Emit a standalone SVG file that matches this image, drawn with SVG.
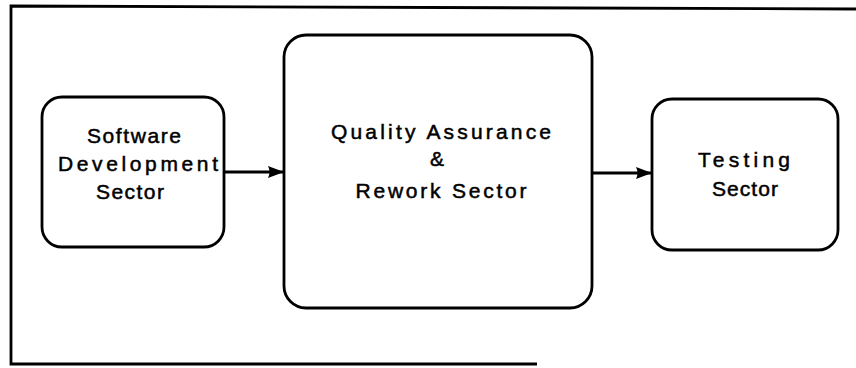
<svg xmlns="http://www.w3.org/2000/svg" width="856" height="368" viewBox="0 0 856 368">
<style>
.box{fill:#fff;stroke:#000;stroke-width:2.8}
.frame{fill:none;stroke:#000;stroke-width:2.8}
.lbl{font-family:"Liberation Sans",Arial,sans-serif;font-size:21px;fill:#000;stroke:#000;stroke-width:0.5;text-anchor:middle}
.conn{stroke:#000;stroke-width:2.8;fill:none}
</style>
<defs>
<marker id="ah" viewBox="0 0 16 12" refX="16" refY="6" markerWidth="16" markerHeight="12" markerUnits="userSpaceOnUse" orient="auto">
<path d="M0,0 L16,6 L0,12 Q3,6 0,0 z" fill="#000"/>
</marker>
</defs>
<g id="frame">
<path class="frame" d="M856,9 L11,6 L11,364 L537,364"/>
</g>
<g id="software">
<rect class="box" x="42" y="97" width="182" height="150" rx="20"/>
<text class="lbl" x="134" y="143" textLength="94" lengthAdjust="spacing">Software</text>
<text class="lbl" x="138" y="171" textLength="160" lengthAdjust="spacing">Development</text>
<text class="lbl" x="130" y="199" textLength="68" lengthAdjust="spacing">Sector</text>
</g>
<g id="qa">
<rect class="box" x="284" y="35" width="308" height="273" rx="22"/>
<text class="lbl" x="441" y="139" textLength="220" lengthAdjust="spacing">Quality  Assurance</text>
<text class="lbl" x="437" y="166">&amp;</text>
<text class="lbl" x="441" y="198" textLength="171" lengthAdjust="spacing">Rework Sector</text>
</g>
<g id="testing">
<rect class="box" x="652" y="99" width="186" height="151" rx="20"/>
<text class="lbl" x="744" y="167" textLength="92" lengthAdjust="spacing">Testing</text>
<text class="lbl" x="745" y="196" textLength="66" lengthAdjust="spacing">Sector</text>
</g>
<g id="connectors">
<line class="conn" x1="224" y1="172" x2="284" y2="172" marker-end="url(#ah)"/>
<line class="conn" x1="592" y1="173" x2="652" y2="173" marker-end="url(#ah)"/>
</g>
</svg>
